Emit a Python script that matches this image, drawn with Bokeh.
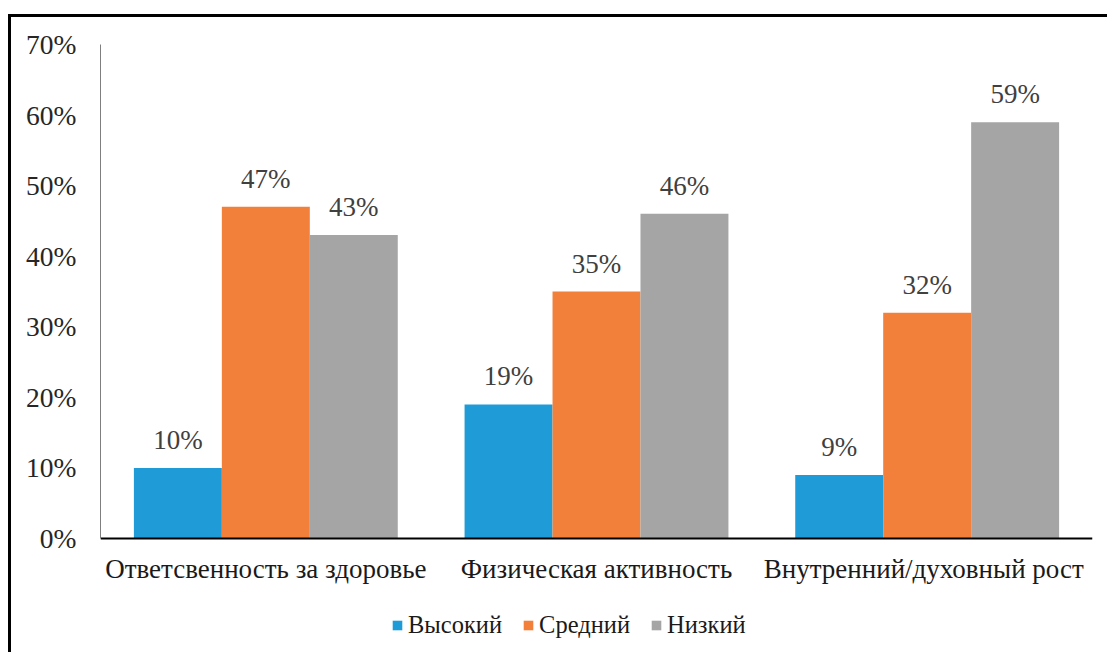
from bokeh.plotting import figure
from bokeh.models import FactorRange, Range1d, ColumnDataSource, Legend, LegendItem, FixedTicker
from bokeh.transform import dodge
from bokeh.core.properties import value
from bokeh.embed import file_html
from bokeh.resources import INLINE

categories = ["Ответсвенность за здоровье", "Физическая активность", "Внутренний/духовный  рост"]
series_names = ["Высокий", "Средний", "Низкий"]
high = [10, 19, 9]
mid = [47, 35, 32]
low = [43, 46, 59]
series_values = [high, mid, low]
colors = ["#1F9BD7", "#F3803A", "#A5A5A5"]
y_ticks = [0, 10, 20, 30, 40, 50, 60, 70]
y_tick_labels = ["0%", "10%", "20%", "30%", "40%", "50%", "60%", "70%"]

FONT = "Liberation Serif"
BAR_W = 0.266
offsets = [-BAR_W, 0.0, BAR_W]

# frame: top at 44px, value 0 at 538px, bottom of frame at 655px (window coords)
px_per_unit = (538 - 44) / 70.0
y_start = -(655 - 538) / px_per_unit

p = figure(
    x_range=FactorRange(*categories, range_padding=0),
    y_range=Range1d(y_start, 70),
    width=1099, height=638,
    output_backend="svg", toolbar_location=None,
    min_border_left=89, min_border_right=18, min_border_top=27, min_border_bottom=0,
    styles={"margin-left": "8px", "margin-top": "14px",
            "border-left": "3px solid #000", "border-top": "3px solid #000"},
)
p.outline_line_color = None
p.xgrid.grid_line_color = None
p.ygrid.grid_line_color = None
p.background_fill_color = "white"
p.border_fill_color = "white"

items = []
for name, vals, col, off in zip(series_names, series_values, colors, offsets):
    src = ColumnDataSource(dict(cat=categories, val=vals,
                                lab=[f"{v}%" for v in vals]))
    r = p.vbar(x=dodge("cat", off, range=p.x_range), top="val", width=BAR_W,
               source=src, fill_color=col, line_color=None)
    p.text(x=dodge("cat", off, range=p.x_range), y="val", text="lab", source=src,
           text_font=value(FONT), text_font_size="27px", text_color="#404040",
           text_align="center", text_baseline="alphabetic", y_offset=-28)
    items.append(LegendItem(label=name, renderers=[r]))

# y axis
ya = p.yaxis[0]
ya.ticker = FixedTicker(ticks=y_ticks)
ya.bounds = (0, 70)
ya.major_label_overrides = {t: l for t, l in zip(y_ticks, y_tick_labels)}
ya.major_tick_line_color = None
ya.minor_tick_line_color = None
ya.axis_line_color = "#7f7f7f"
ya.axis_line_width = 1
ya.major_label_text_font = FONT
ya.major_label_text_font_size = "27.5px"
ya.major_label_text_color = "#262626"
ya.major_label_standoff = 18

# x axis drawn at value 0
xa = p.xaxis[0]
xa.fixed_location = 0
xa.major_tick_line_color = None
xa.minor_tick_line_color = None
xa.axis_line_color = "#000000"
xa.axis_line_width = 2
xa.major_label_text_font = FONT
xa.major_label_text_font_size = "27px"
xa.major_label_text_color = "#1a1a1a"
xa.major_label_standoff = 9

legend = Legend(items=items, orientation="horizontal", location=(291, 16),
                glyph_width=12, glyph_height=12, label_standoff=5, spacing=20,
                padding=0, margin=0, border_line_color=None, background_fill_alpha=0,
                label_text_font=FONT, label_text_font_size="24.5px", label_text_color="#1a1a1a")
p.add_layout(legend, "center")

open("out.html", "w").write(file_html(p, INLINE))
